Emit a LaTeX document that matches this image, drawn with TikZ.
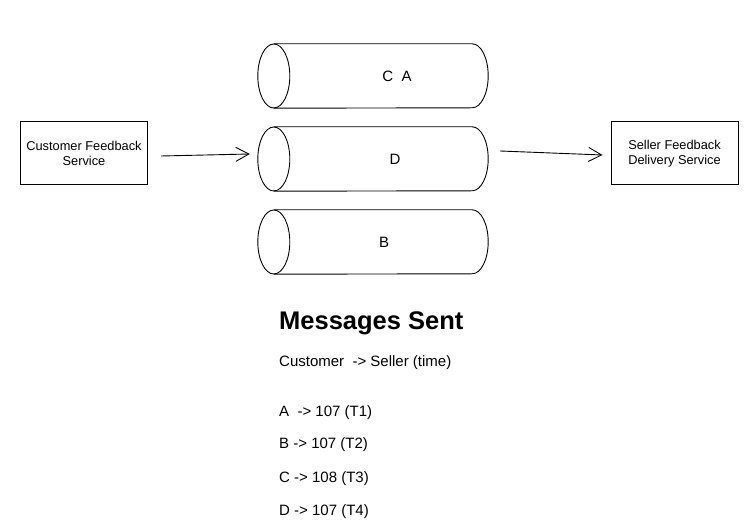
\documentclass[tikz,border=0pt]{standalone}
\usepackage{fontspec}
\setmainfont{Liberation Sans}
\usetikzlibrary{arrows.meta}

\begin{document}
\begin{tikzpicture}[
            x=1pt, y=-1pt,
            every node/.style={text centered, font=\fontsize{15}{17}\selectfont},
            service/.style={rectangle, draw=black, line width=1pt, minimum width=127pt, minimum height=63pt, align=center, font=\fontsize{12.8}{14.5}\selectfont},
            queue/.style={rectangle, minimum width=230pt, minimum height=64pt, inner sep=0pt},
            msg/.style={anchor=west, inner sep=0pt},
            arrow/.style={line width=0.9pt, -{Straight Barb[length=13pt, width=14pt]}}
        ]
            \useasboundingbox (0,0) rectangle (755,526);

            % Nodes
            \node (customer) [service] at (84,153.5) {Customer Feedback\\Service};
            \node (seller) [service] at (674.5,153.5) {Seller Feedback\\Delivery Service};

            \node (queue1) [queue] at (373,76) {};
            \node (queue2) [queue] at (373,159) {};
            \node (queue3) [queue] at (373,242) {};

            % Cylinders
            \foreach \q in {queue1,queue2,queue3} {
                \draw [line width=0.9pt] ([xshift=16pt]\q.west) ellipse [x radius=16pt, y radius=32pt];
                \draw [line width=0.9pt] ([xshift=16pt]\q.north west) -- ([xshift=-16pt]\q.north east)
                    arc [start angle=90, end angle=-90, x radius=16pt, y radius=32pt]
                    -- ([xshift=16pt]\q.south west);
            }

            \node (label1) at (397,76) {C\ \ A};
            \node (label2) at (395,159) {D};
            \node (label3) at (384,242) {B};

            % Messages
            \node (title) [msg, font=\bfseries\fontsize{25.5}{30}\selectfont] at (279,323) {Messages Sent};
            \node (header) [msg] at (279,363) {Customer\ \ -> Seller (time)};
            \node (msgA) [msg] at (279,413) {A\ \ -> 107 (T1)};
            \node (msgB) [msg] at (279,445) {B -> 107 (T2)};
            \node (msgC) [msg] at (279,479) {C -> 108 (T3)};
            \node (msgD) [msg] at (279,512) {D -> 107 (T4)};

            % Arrows
            \draw [arrow] ([shift={(13,2.5)}]customer.east) -- ([shift={(-8,-5)}]queue2.west);
            \draw [arrow] ([shift={(12,-8)}]queue2.east) -- ([shift={(-8,1.5)}]seller.west);
        \end{tikzpicture}
\end{document}
